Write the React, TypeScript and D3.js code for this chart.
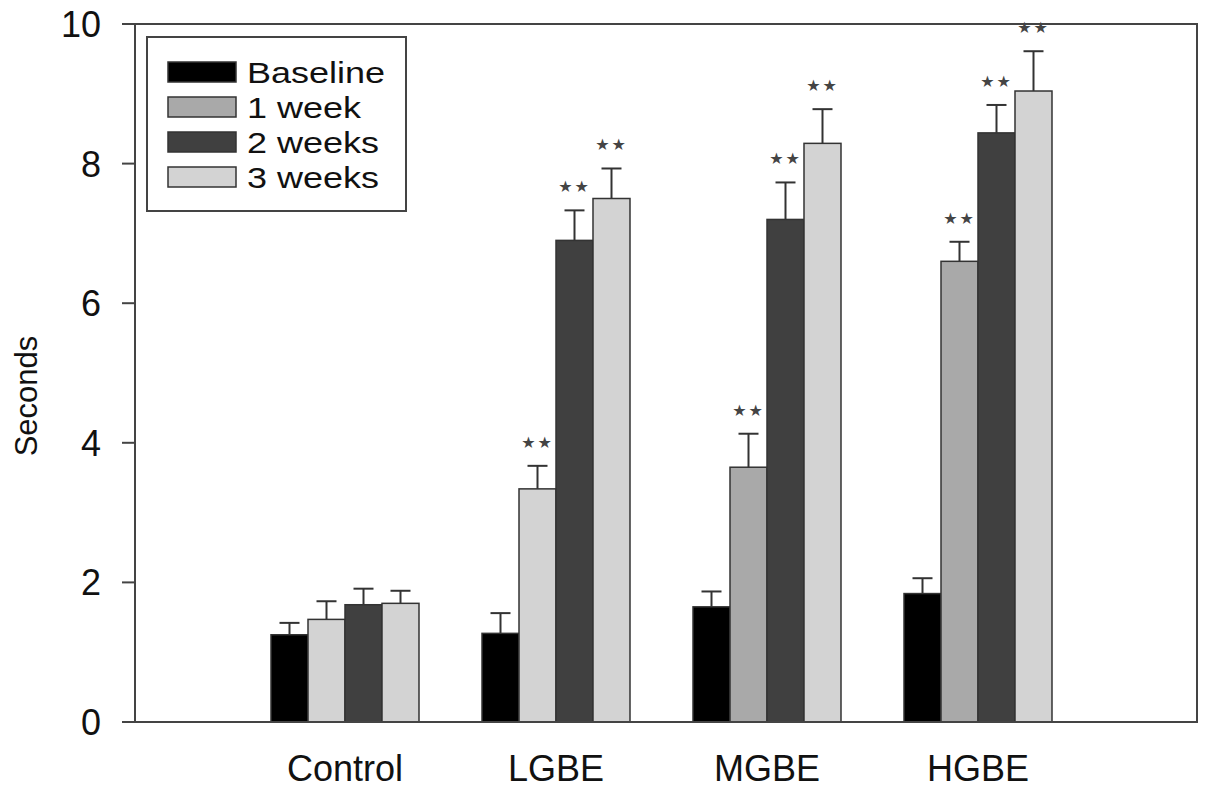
import React from 'react';
import * as d3 from 'd3';

const groups = ['Control', 'LGBE', 'MGBE', 'HGBE'];
const seriesNames = ['Baseline', '1 week', '2 weeks', '3 weeks'];

const baseline = [1.25, 1.27, 1.65, 1.84];
const baselineErr = [0.17, 0.29, 0.22, 0.22];
const week1 = [1.47, 3.34, 3.65, 6.6];
const week1Err = [0.26, 0.33, 0.48, 0.28];
const week2 = [1.68, 6.9, 7.2, 8.44];
const week2Err = [0.23, 0.43, 0.53, 0.4];
const week3 = [1.7, 7.5, 8.29, 9.04];
const week3Err = [0.18, 0.43, 0.49, 0.57];

const baselineSig = [false, false, false, false];
const week1Sig = [false, true, true, true];
const week2Sig = [false, true, true, true];
const week3Sig = [false, true, true, true];

const yTicks = [0, 2, 4, 6, 8, 10];

const seriesColors = ['#000000', '#a9a9a9', '#404040', '#d3d3d3'];
// the 1-week bars of the first two groups are drawn in the light fill in the original
const week1Fills = ['#d3d3d3', '#d3d3d3', '#a9a9a9', '#a9a9a9'];

const W = 1205;
const H = 793;
const left = 135;
const right = 1197;
const top = 24;
const bottom = 722;
const font = 'Arial, "Liberation Sans", sans-serif';

export default function App() {
  const values = [baseline, week1, week2, week3];
  const errors = [baselineErr, week1Err, week2Err, week3Err];
  const sig = [baselineSig, week1Sig, week2Sig, week3Sig];

  const y = d3.scaleLinear().domain([0, 10]).range([bottom, top]);
  const pad = 0.2986;
  const x = d3.scaleBand<string>()
    .domain(groups)
    .range([239.5, 1083.5])
    .paddingInner(pad)
    .paddingOuter(pad / 2);
  const xs = d3.scaleBand<string>().domain(seriesNames).range([0, x.bandwidth()]);

  const bars: any[] = [];
  groups.forEach((g, gi) => {
    seriesNames.forEach((s, si) => {
      const v = values[si][gi];
      const e = errors[si][gi];
      const bx = (x(g) || 0) + (xs(s) || 0);
      const bw = xs.bandwidth();
      const cx = bx + bw / 2;
      const fill = si === 1 ? week1Fills[gi] : seriesColors[si];
      bars.push({ g, s, v, e, bx, bw, cx, fill, sig: sig[si][gi], key: g + s });
    });
  });

  return (
    <svg width={W} height={H} style={{ position: 'absolute', left: 0, top: 0, background: '#fff' }}>
      <rect x={0} y={0} width={W} height={H} fill="#fff" />
      {/* bars */}
      {bars.map(b => (
        <g key={b.key}>
          <line x1={b.cx} x2={b.cx} y1={y(b.v)} y2={y(b.v + b.e)} stroke="#333" strokeWidth={2} />
          <line x1={b.cx - 10} x2={b.cx + 10} y1={y(b.v + b.e)} y2={y(b.v + b.e)} stroke="#333" strokeWidth={2} />
          <rect x={b.bx} y={y(b.v)} width={b.bw} height={bottom - y(b.v)} fill={b.fill} stroke="#333" strokeWidth={1.5} />
          {b.sig && (
            <text x={b.cx} y={y(b.v + b.e) - 18} textAnchor="middle" fontSize={16} fill="#444"
              fontFamily='"DejaVu Sans", sans-serif' letterSpacing={2}>★★</text>
          )}
        </g>
      ))}
      {/* frame */}
      <rect x={left} y={top} width={right - left} height={bottom - top} fill="none" stroke="#444" strokeWidth={2} />
      {/* y axis */}
      {yTicks.map(t => (
        <g key={t}>
          <line x1={left - 13} x2={left} y1={y(t)} y2={y(t)} stroke="#444" strokeWidth={2} />
          <text x={101} y={y(t)} dy="0.36em" textAnchor="end" fontSize={36} fontFamily={font} fill="#111">{t}</text>
        </g>
      ))}
      <text transform={`translate(37,396) rotate(-90)`} textAnchor="middle"
        fontSize={31} fontFamily={font} fill="#111">Seconds</text>
      {/* x labels */}
      {groups.map(g => (
        <text key={g} x={(x(g) || 0) + x.bandwidth() / 2} y={781} textAnchor="middle" fontSize={36}
          fontFamily={font} fill="#111">{g}</text>
      ))}
      {/* legend */}
      <rect x={147} y={37} width={259} height={174} fill="#fff" stroke="#444" strokeWidth={2} />
      {seriesNames.map((s, i) => (
        <g key={s}>
          <rect x={168} y={62 + i * 35} width={68} height={20} fill={seriesColors[i]} stroke="#333" strokeWidth={1.5} />
          <text transform={`translate(247,${72 + i * 35}) scale(1.2,1)`} dy="0.36em" fontSize={30}
            fontFamily={font} fill="#111">{s}</text>
        </g>
      ))}
    </svg>
  );
}
